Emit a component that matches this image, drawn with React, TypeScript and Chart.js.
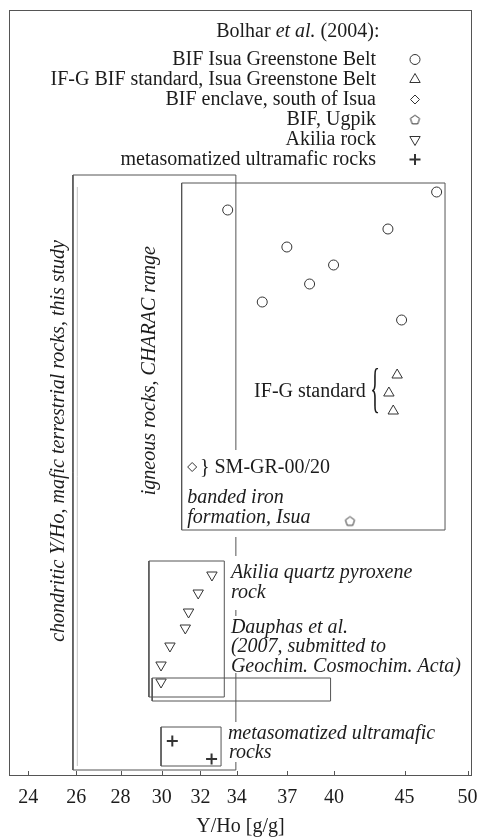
import React, { useEffect, useRef } from 'react';
import { Chart, registerables } from 'chart.js';
import { drawPoint } from 'chart.js/helpers';

Chart.register(...registerables);

const FONT = '"Liberation Serif", "Times New Roman", serif';
const INK = '#1c1c1c';
const LINE = '#555555';
const MARK = '#333333';

// ---- axis ----
const xTickValues = [24, 26, 28, 30, 32, 34, 37, 40, 45, 50];
const xMin = 23.24;
const xMax = 50.37;
const yMin = 0;
const yMax = 766;

// ---- data (x = Y/Ho, y = vertical arrangement in the diagram) ----
const bifIsuaX = [33.49, 47.48, 43.77, 36.97, 39.97, 38.4, 35.48, 44.78];
const bifIsuaY = [566, 584, 547, 529, 511, 492, 474, 456];
const ifgX = [44.45, 43.84, 44.16];
const ifgY = [401, 383, 365];
const enclaveX = [31.56];
const enclaveY = [309];
const ugpikX = [41.08];
const ugpikY = [255];
const akiliaX = [32.62, 31.88, 31.37, 31.2, 30.41, 29.96, 29.96];
const akiliaY = [201, 183, 164, 148, 130, 111, 94];
const ultramaficX = [30.53, 32.6];
const ultramaficY = [35, 17];

// ---- ranges (boxes) ----
const chondriticX = [25.86, 33.95];
const chondriticY = [6, 601];
const chondriticRightEdge = [[326, 601], [220, 239], [160, 166], [54, 103], [6, 14]];
const chondriticShadowX = 26.05;
const chondriticShadowY = [10, 589];
const igneousX = [31.01, 48.15];
const igneousY = [246, 593];
const akiliaBoxX = [29.36, 33.3];
const akiliaBoxY = [79, 215];
const dauphasBoxX = [29.52, 39.77];
const dauphasBoxY = [75, 98];
const ultramaficBoxX = [29.96, 33.12];
const ultramaficBoxY = [10, 49];

// ---- labels ----
const legendTitle = ['Bolhar ', 'et al.', ' (2004):'];
const legendLabels = [
  'BIF Isua Greenstone Belt',
  'IF-G BIF standard, Isua Greenstone Belt',
  'BIF enclave, south of Isua',
  'BIF, Ugpik',
  'Akilia rock',
  'metasomatized ultramafic rocks',
];
const notes = [
  { text: 'IF-G standard', x: 35.0, y: 384, italic: false },
  { text: '} SM-GR-00/20', x: 31.97, y: 308, italic: false },
  { text: 'banded iron', x: 31.3, y: 278, italic: true },
  { text: 'formation, Isua', x: 31.3, y: 258, italic: true },
  { text: 'Akilia quartz pyroxene', x: 33.67, y: 203, italic: true },
  { text: 'rock', x: 33.67, y: 183, italic: true },
  { text: 'Dauphas et al.', x: 33.67, y: 148, italic: true },
  { text: '(2007, submitted to', x: 33.67, y: 129, italic: true },
  { text: 'Geochim. Cosmochim. Acta)', x: 33.67, y: 109, italic: true },
  { text: 'metasomatized ultramafic', x: 33.5, y: 42, italic: true },
  { text: 'rocks', x: 33.56, y: 23, italic: true },
];
const verticalNotes = [
  { text: 'chondritic Y/Ho, mafic terrestrial rocks, this study', x: 25.47, yTop: 536 },
  { text: 'igneous rocks, CHARAC range', x: 29.68, yTop: 530 },
];
const brace = { x: 42.83, y: 384 };

const zip = (xs: number[], ys: number[]) => xs.map((x, i) => ({ x, y: ys[i] }));
const rect = (xr: number[], yr: number[]) => [
  { x: xr[0], y: yr[0] },
  { x: xr[1], y: yr[0] },
  { x: xr[1], y: yr[1] },
  { x: xr[0], y: yr[1] },
  { x: xr[0], y: yr[0] },
];

function makePentagon(): HTMLCanvasElement {
  const c = document.createElement('canvas');
  c.width = 13;
  c.height = 13;
  const g = c.getContext('2d')!;
  g.strokeStyle = MARK;
  g.lineWidth = 1;
  g.beginPath();
  for (let i = 0; i < 5; i++) {
    const a = -Math.PI / 2 + (i * 2 * Math.PI) / 5;
    const px = 6.5 + Math.cos(a) * 4.8;
    const py = 7 + Math.sin(a) * 4.8;
    if (i === 0) g.moveTo(px, py);
    else g.lineTo(px, py);
  }
  g.closePath();
  g.stroke();
  return c;
}

export default function App() {
  const ref = useRef<HTMLCanvasElement | null>(null);

  useEffect(() => {
    document.body.style.margin = '0';
    const canvas = ref.current;
    if (!canvas) return;
    const pentagon = makePentagon();

    const lineDs = (data: any[], color = LINE) => ({
      type: 'scatter' as const,
      data,
      showLine: true,
      borderColor: color,
      borderWidth: 1,
      pointRadius: 0,
      fill: false,
      tension: 0,
    });
    const ptDs = (label: string, data: any[], style: any, radius: number, rotation = 0, bw = 1) => ({
      label,
      data,
      showLine: false,
      pointStyle: style,
      pointRadius: radius,
      pointRotation: rotation,
      pointBorderColor: MARK,
      pointBackgroundColor: '#ffffff',
      pointBorderWidth: bw,
    });

    const [cx0, cx1] = chondriticX;
    const chondriticOpen = [
      { x: cx1, y: chondriticRightEdge[0][0] },
      { x: cx1, y: chondriticY[1] },
      { x: cx0, y: chondriticY[1] },
      { x: cx0, y: chondriticY[0] },
      { x: cx1, y: chondriticY[0] },
      { x: cx1, y: chondriticRightEdge[4][1] },
    ];
    const edgeSegs = chondriticRightEdge.slice(1, 4).map((s) => [
      { x: cx1, y: s[0] },
      { x: cx1, y: s[1] },
    ]);

    const datasets: any[] = [
      lineDs(chondriticOpen),
      ...edgeSegs.map((s) => lineDs(s)),
      lineDs([
        { x: chondriticShadowX, y: chondriticShadowY[0] },
        { x: chondriticShadowX, y: chondriticShadowY[1] },
      ], '#c4c4c4'),
      lineDs(rect(igneousX, igneousY)),
      lineDs(rect(akiliaBoxX, akiliaBoxY)),
      lineDs(rect(dauphasBoxX, dauphasBoxY)),
      lineDs(rect(ultramaficBoxX, ultramaficBoxY)),
      ptDs(legendLabels[0], zip(bifIsuaX, bifIsuaY), 'circle', 5),
      ptDs(legendLabels[1], zip(ifgX, ifgY), 'triangle', 6),
      ptDs(legendLabels[2], zip(enclaveX, enclaveY), 'rectRot', 4.5),
      ptDs(legendLabels[3], zip(ugpikX, ugpikY), pentagon, 6),
      ptDs(legendLabels[4], zip(akiliaX, akiliaY), 'triangle', 6, 180),
      ptDs(legendLabels[5], zip(ultramaficX, ultramaficY), 'cross', 5.5, 0, 2),
    ];

    const legendStyles: any[] = [
      { pointStyle: 'circle', radius: 5, rotation: 0, borderWidth: 1 },
      { pointStyle: 'triangle', radius: 6, rotation: 0, borderWidth: 1 },
      { pointStyle: 'rectRot', radius: 4.5, rotation: 0, borderWidth: 1 },
      { pointStyle: pentagon, radius: 6, rotation: 0, borderWidth: 1 },
      { pointStyle: 'triangle', radius: 6, rotation: 180, borderWidth: 1 },
      { pointStyle: 'cross', radius: 5.5, rotation: 0, borderWidth: 2 },
    ];

    const decor = {
      id: 'decor',
      beforeDatasetsDraw(chart: any) {
        const { ctx, chartArea: a, scales } = chart;
        ctx.save();
        ctx.strokeStyle = LINE;
        ctx.lineWidth = 1;
        ctx.strokeRect(a.left + 0.5, a.top + 0.5, a.right - a.left - 1, a.bottom - a.top - 1);
        ctx.beginPath();
        for (const t of xTickValues) {
          const px = Math.round(scales.x.getPixelForValue(t)) + 0.5;
          ctx.moveTo(px, a.bottom);
          ctx.lineTo(px, a.bottom - 5);
        }
        ctx.stroke();
        ctx.restore();
      },
      afterDatasetsDraw(chart: any) {
        const { ctx, scales } = chart;
        const sx = scales.x;
        const sy = scales.y;
        ctx.save();
        ctx.fillStyle = INK;
        // notes
        ctx.textAlign = 'left';
        ctx.textBaseline = 'middle';
        for (const n of notes) {
          ctx.font = `${n.italic ? 'italic ' : ''}20px ${FONT}`;
          ctx.fillText(n.text, sx.getPixelForValue(n.x), sy.getPixelForValue(n.y));
        }
        // vertical notes
        ctx.font = `italic 20px ${FONT}`;
        ctx.textBaseline = 'alphabetic';
        ctx.textAlign = 'right';
        for (const v of verticalNotes) {
          ctx.save();
          ctx.translate(sx.getPixelForValue(v.x), sy.getPixelForValue(v.yTop));
          ctx.rotate(-Math.PI / 2);
          ctx.fillText(v.text, 0, 0);
          ctx.restore();
        }
        // brace
        ctx.save();
        ctx.translate(sx.getPixelForValue(brace.x), sy.getPixelForValue(brace.y));
        ctx.scale(1, 2.7);
        ctx.font = `20px ${FONT}`;
        ctx.textAlign = 'center';
        ctx.textBaseline = 'middle';
        ctx.fillText('{', 0, 0);
        ctx.restore();
        // legend
        const right = 376;
        const titleRight = 379.5;
        ctx.textBaseline = 'middle';
        ctx.font = `20px ${FONT}`;
        const w1 = ctx.measureText(legendTitle[0]).width;
        const w3 = ctx.measureText(legendTitle[2]).width;
        ctx.font = `italic 20px ${FONT}`;
        const w2 = ctx.measureText(legendTitle[1]).width;
        let tx = titleRight - (w1 + w2 + w3);
        ctx.textAlign = 'left';
        ctx.font = `20px ${FONT}`;
        ctx.fillText(legendTitle[0], tx, 32);
        tx += w1;
        ctx.font = `italic 20px ${FONT}`;
        ctx.fillText(legendTitle[1], tx, 32);
        tx += w2;
        ctx.font = `20px ${FONT}`;
        ctx.fillText(legendTitle[2], tx, 32);
        ctx.textAlign = 'right';
        legendLabels.forEach((lab, i) => {
          const yy = 59.5 + i * 20;
          ctx.fillStyle = INK;
          ctx.fillText(lab, right, yy);
          ctx.strokeStyle = MARK;
          ctx.fillStyle = '#ffffff';
          const st = legendStyles[i];
          ctx.lineWidth = st.borderWidth;
          drawPoint(ctx, st, 415, yy);
        });
        ctx.restore();
      },
    };

    const chart = new Chart(canvas, {
      type: 'scatter',
      data: { datasets },
      options: {
        animation: false,
        responsive: false,
        events: [],
        layout: { padding: { left: 9, right: 9, top: 10, bottom: 0 } },
        plugins: { legend: { display: false }, tooltip: { enabled: false } },
        scales: {
          x: {
            type: 'logarithmic',
            min: xMin,
            max: xMax,
            bounds: 'data',
            afterBuildTicks: (scale: any) => {
              scale.ticks = xTickValues.map((v) => ({ value: v }));
            },
            afterFit: (scale: any) => {
              scale.height = 61;
              scale.paddingLeft = 0;
              scale.paddingRight = 0;
            },
            grid: { display: false, drawTicks: false },
            border: { display: false },
            ticks: {
              autoSkip: false,
              maxRotation: 0,
              minRotation: 0,
              padding: 12,
              color: INK,
              font: { family: FONT, size: 20, lineHeight: 1 },
              callback: (v: any) => String(v),
            },
            title: {
              display: true,
              text: 'Y/Ho [g/g]',
              color: INK,
              font: { family: FONT, size: 20, lineHeight: 1 },
              padding: { top: 9, bottom: 0 },
            },
          },
          y: { type: 'linear', min: yMin, max: yMax, display: false },
        },
      },
      plugins: [decor],
    } as any);
    return () => chart.destroy();
  }, []);

  return <canvas ref={ref} width={481} height={837} style={{ display: 'block' }} />;
}
